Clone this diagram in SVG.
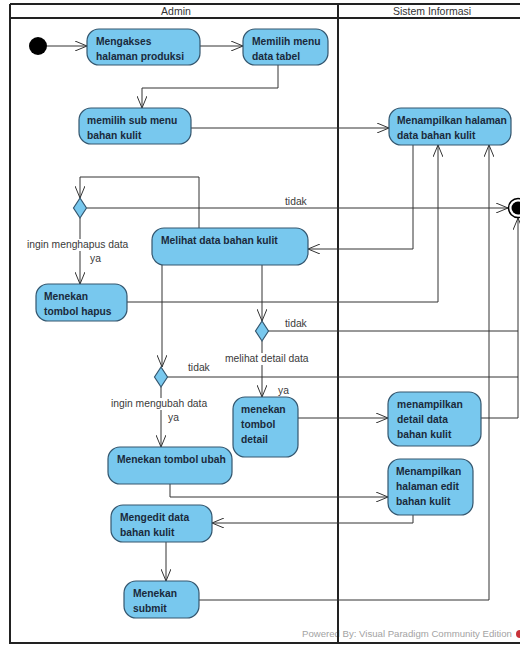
<svg xmlns="http://www.w3.org/2000/svg" width="520" height="646" viewBox="0 0 520 646">
  <style>
    .frame { fill: none; stroke: #222; stroke-width: 2; }
    .hdr { font-family: "Liberation Sans", Arial, sans-serif; font-size: 10.5px; fill: #333; text-anchor: middle; }
    .act rect { fill: #78C8EE; stroke: #34566e; stroke-width: 1.2; }
    .act text { font-family: "Liberation Sans", Arial, sans-serif; font-size: 10.3px; font-weight: bold; fill: #1a2a3c; }
    .dec polygon { fill: #78C8EE; stroke: #34566e; stroke-width: 1.2; }
    .conn path { fill: none; stroke: #333; stroke-width: 1; }
    .lbl { font-family: "Liberation Sans", Arial, sans-serif; font-size: 10.3px; fill: #3a3a3a; }
    .lblbg { fill: #fff; }
    .wm { font-family: "Liberation Sans", Arial, sans-serif; font-size: 9.6px; fill: #a3a3a3; }
  </style>
  <defs>
    <marker id="arr" viewBox="0 0 12 10" refX="12" refY="5" markerWidth="12" markerHeight="10" markerUnits="userSpaceOnUse" orient="auto">
      <path d="M0,0 L12,5 L0,10" fill="none" stroke="#333" stroke-width="1"/>
    </marker>
  </defs>

  <rect width="520" height="646" fill="#fff"/>

  <!-- watermark -->
  <text class="wm" x="302" y="637">Powered By: Visual Paradigm Community Edition</text>
  <circle cx="520" cy="634" r="4" fill="#c8323a"/>

  <!-- swimlane frame -->
  <g id="swimlanes">
    <path class="frame" d="M10,4 H521 M10,18 H521 M10,4 V643 H521 M338,4 V643"/>
    <text class="hdr" x="176" y="15">Admin</text>
    <text class="hdr" x="432" y="15">Sistem Informasi</text>
  </g>

  <!-- connectors -->
  <g id="connectors" class="conn">
    <path d="M47,46 H87" marker-end="url(#arr)"/>
    <path d="M200,46 H243" marker-end="url(#arr)"/>
    <path d="M278,65 V88 H142 V108" marker-end="url(#arr)"/>
    <path d="M191,128 H389" marker-end="url(#arr)"/>
    <path d="M413,145 V249 H308" marker-end="url(#arr)"/>
    <path d="M199,228 V177 H80 V198" marker-end="url(#arr)"/>
    <path d="M87,208 H508" marker-end="url(#arr)"/>
    <path d="M80,218 V284" marker-end="url(#arr)"/>
    <path d="M127,302 H438 V145" marker-end="url(#arr)"/>
    <path d="M262,265 V321" marker-end="url(#arr)"/>
    <path d="M162,265 V367" marker-end="url(#arr)"/>
    <path d="M268,331 H518"/>
    <path d="M262,341 V397" marker-end="url(#arr)"/>
    <path d="M167,377 H518"/>
    <path d="M161,387 V447" marker-end="url(#arr)"/>
    <path d="M298,418 H388" marker-end="url(#arr)"/>
    <path d="M481,418 H518 V218" marker-end="url(#arr)"/>
    <path d="M170,484 V497 H388" marker-end="url(#arr)"/>
    <path d="M413,515 V523 H212" marker-end="url(#arr)"/>
    <path d="M166,542 V581" marker-end="url(#arr)"/>
    <path d="M199,600 H489 V145" marker-end="url(#arr)"/>
  </g>

  <!-- guard labels (white backing where they sit on a flow line) -->
  <g id="labels">
    <rect class="lblbg" x="26" y="239" width="104" height="12"/>
    <rect class="lblbg" x="224" y="353" width="87" height="12"/>
    <rect class="lblbg" x="110" y="398" width="99" height="12"/>
    <text class="lbl" x="285" y="205">tidak</text>
    <text class="lbl" x="27" y="248">ingin menghapus data</text>
    <text class="lbl" x="90" y="262">ya</text>
    <text class="lbl" x="285" y="327">tidak</text>
    <text class="lbl" x="225" y="362">melihat detail data</text>
    <text class="lbl" x="278" y="394">ya</text>
    <text class="lbl" x="188" y="371">tidak</text>
    <text class="lbl" x="111" y="407">ingin mengubah data</text>
    <text class="lbl" x="168" y="421">ya</text>
  </g>

  <!-- start / end -->
  <g id="start"><circle cx="38" cy="46" r="9" fill="#000"/></g>
  <g id="end">
    <circle cx="518" cy="208" r="9.5" fill="#fff" stroke="#000" stroke-width="1.5"/>
    <circle cx="518" cy="208" r="6.5" fill="#000"/>
  </g>

  <!-- decisions -->
  <g id="dec-hapus" class="dec"><polygon points="80,198 86.5,208 80,218 73.5,208"/></g>
  <g id="dec-detail" class="dec"><polygon points="262,321 268.5,331 262,341 255.5,331"/></g>
  <g id="dec-ubah" class="dec"><polygon points="161,367 167.5,377 161,387 154.5,377"/></g>

  <!-- actions -->
  <g id="mengakses" class="act">
    <rect x="87" y="29" width="113" height="36" rx="12"/>
    <text x="96" y="45">Mengakses</text>
    <text x="96" y="60">halaman produksi</text>
  </g>
  <g id="memilih-menu" class="act">
    <rect x="243" y="29" width="85" height="36" rx="12"/>
    <text x="252" y="45">Memilih menu</text>
    <text x="252" y="60">data tabel</text>
  </g>
  <g id="sub-menu" class="act">
    <rect x="79" y="108" width="112" height="36" rx="12"/>
    <text x="87" y="124">memilih sub menu</text>
    <text x="87" y="139">bahan kulit</text>
  </g>
  <g id="tampil-halaman" class="act">
    <rect x="389" y="108" width="122" height="37" rx="12"/>
    <text x="397" y="124">Menampilkan halaman</text>
    <text x="397" y="139">data bahan kulit</text>
  </g>
  <g id="melihat-data" class="act">
    <rect x="152" y="228" width="156" height="37" rx="12"/>
    <text x="161" y="244">Melihat data bahan kulit</text>
  </g>
  <g id="tombol-hapus" class="act">
    <rect x="36" y="284" width="91" height="37" rx="12"/>
    <text x="44" y="300">Menekan</text>
    <text x="44" y="315">tombol hapus</text>
  </g>
  <g id="tombol-detail" class="act">
    <rect x="233" y="397" width="65" height="60" rx="12"/>
    <text x="241" y="413">menekan</text>
    <text x="241" y="428">tombol</text>
    <text x="241" y="443">detail</text>
  </g>
  <g id="tampil-detail" class="act">
    <rect x="388" y="392" width="93" height="54" rx="12"/>
    <text x="397" y="408">menampilkan</text>
    <text x="397" y="423">detail data</text>
    <text x="397" y="438">bahan kulit</text>
  </g>
  <g id="tombol-ubah" class="act">
    <rect x="108" y="447" width="124" height="37" rx="12"/>
    <text x="117" y="463">Menekan tombol ubah</text>
  </g>
  <g id="tampil-edit" class="act">
    <rect x="388" y="459" width="85" height="56" rx="12"/>
    <text x="396" y="475">Menampilkan</text>
    <text x="396" y="490">halaman edit</text>
    <text x="396" y="505">bahan kulit</text>
  </g>
  <g id="mengedit" class="act">
    <rect x="111" y="505" width="101" height="37" rx="12"/>
    <text x="120" y="521">Mengedit data</text>
    <text x="120" y="536">bahan kulit</text>
  </g>
  <g id="submit" class="act">
    <rect x="124" y="581" width="75" height="37" rx="12"/>
    <text x="133" y="597">Menekan</text>
    <text x="133" y="612">submit</text>
  </g>
</svg>
